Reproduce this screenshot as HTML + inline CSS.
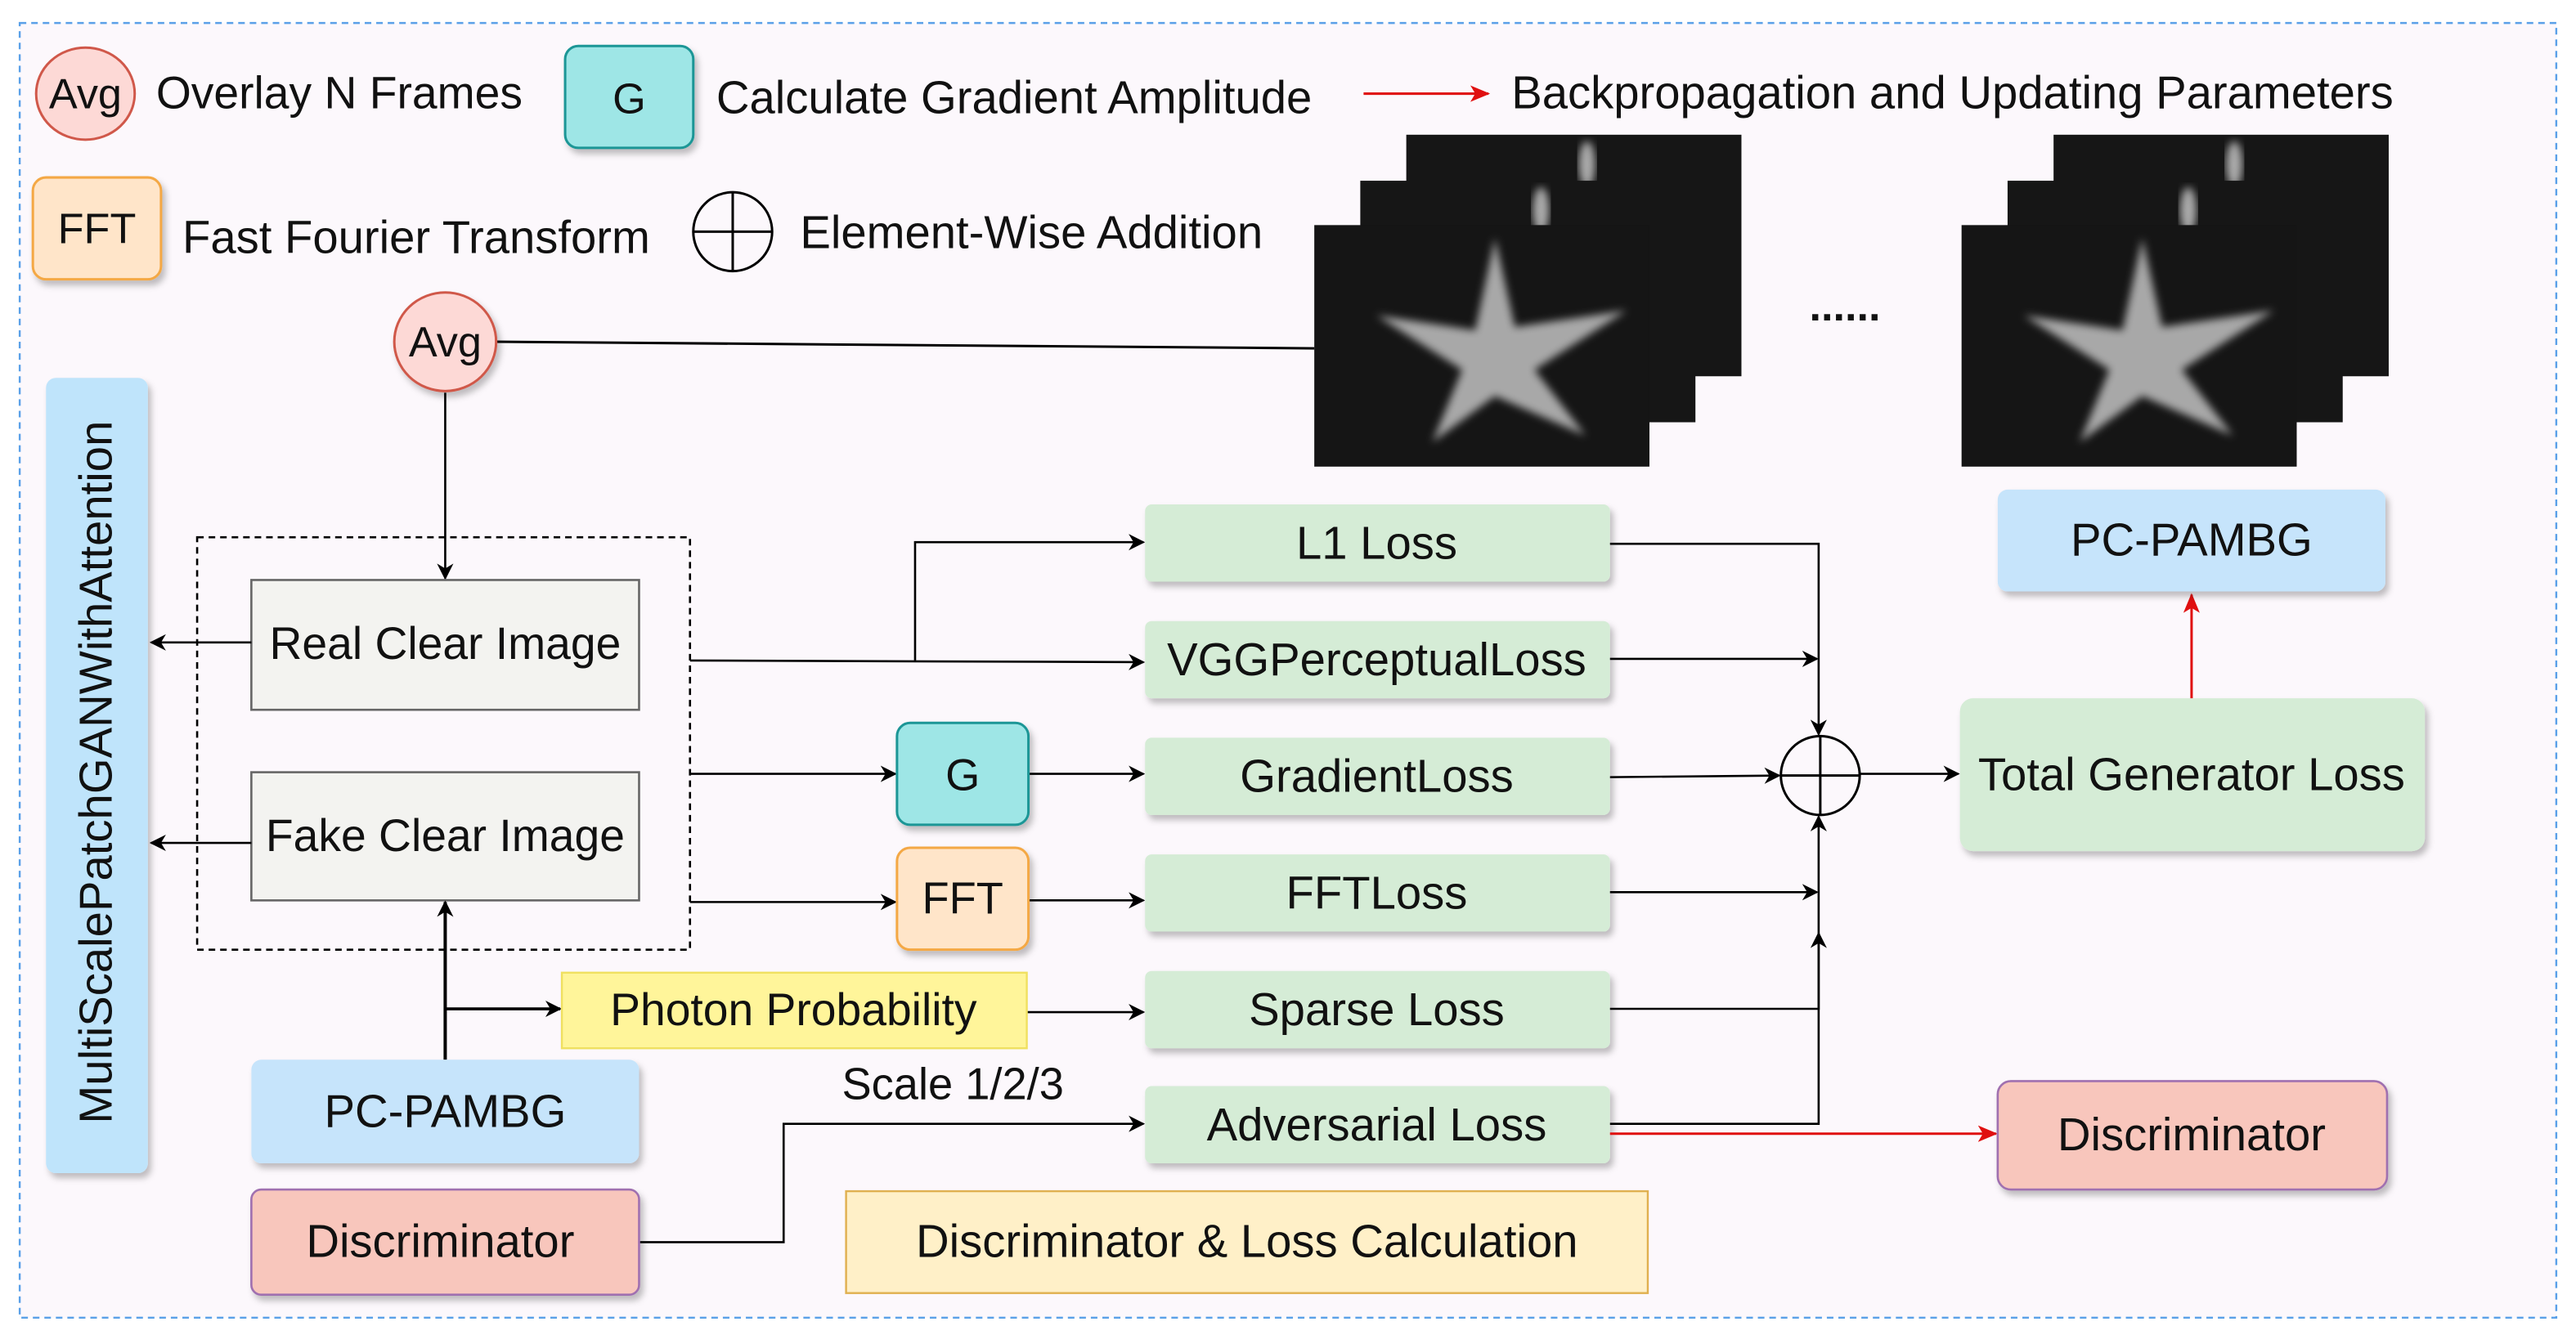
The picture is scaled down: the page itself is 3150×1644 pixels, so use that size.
<!DOCTYPE html>
<html><head><meta charset="utf-8"><style>
html,body{margin:0;padding:0;background:#fff}
svg{display:block}
text{font-family:"Liberation Sans",sans-serif;fill:#111}
</style></head><body>
<svg width="3150" height="1644" viewBox="0 0 1568 818" preserveAspectRatio="none" xmlns="http://www.w3.org/2000/svg">
<defs>
<filter id="sh" x="-10%" y="-10%" width="130%" height="140%"><feDropShadow dx="2" dy="3" stdDeviation="2" flood-color="#000" flood-opacity="0.25"/></filter>
<filter id="bl"><feGaussianBlur stdDeviation="2.5"/></filter>
<marker id="a" markerWidth="10" markerHeight="10" refX="9" refY="5" orient="auto" markerUnits="userSpaceOnUse"><path d="M0,0 L10,5 L0,10 L3,5 z" fill="#000"/></marker>
<marker id="r" markerWidth="12" markerHeight="10" refX="11" refY="5" orient="auto" markerUnits="userSpaceOnUse"><path d="M0,0 L12,5 L0,10 L3,5 z" fill="#e01010"/></marker>
<g id="star">
<rect width="204" height="147" fill="#151515"/>
<g filter="url(#bl)" fill="#a8a8a8">
<polygon points="110,8 122,62 190,52 134,88 165,128 110,104 72,132 90,88 38,55 98,64"/>
</g>
</g>
<g id="stack">
<rect x="56" y="0" width="204" height="147" fill="#161616"/>
<ellipse cx="166" cy="18" rx="5" ry="14" fill="#aaa" filter="url(#bl)"/>
<rect x="28" y="28" width="204" height="147" fill="#161616"/>
<ellipse cx="138" cy="46" rx="5" ry="14" fill="#aaa" filter="url(#bl)"/>
<use href="#star" x="0" y="55"/>
</g>
</defs>
<rect x="0" y="0" width="1568" height="818" fill="#fff"/>
<rect x="12" y="14" width="1544" height="788" fill="#fcf8fc" stroke="#5aa0e8" stroke-width="1.2" stroke-dasharray="4,3"/>

<!-- legend -->
<ellipse cx="52" cy="57" rx="30" ry="28" fill="#fdd9d6" stroke="#d0584a" stroke-width="1.5"/>
<text x="52" y="66" font-size="26" text-anchor="middle">Avg</text>
<text x="95" y="66" font-size="27.5">Overlay N Frames</text>
<rect x="344" y="28" width="78" height="62" rx="8" fill="#9ee6e6" stroke="#1a9696" stroke-width="1.5" filter="url(#sh)"/>
<text x="383" y="69" font-size="26" text-anchor="middle">G</text>
<text x="436" y="69" font-size="28">Calculate Gradient Amplitude</text>
<line x1="830" y1="57" x2="906" y2="57" stroke="#e01010" stroke-width="1.5" marker-end="url(#r)"/>
<text x="920" y="66" font-size="28">Backpropagation and Updating Parameters</text>
<rect x="20" y="108" width="78" height="62" rx="8" fill="#ffe5c9" stroke="#f4a844" stroke-width="1.5" filter="url(#sh)"/>
<text x="59" y="148" font-size="26" text-anchor="middle">FFT</text>
<text x="111" y="154" font-size="28">Fast Fourier Transform</text>
<ellipse cx="446" cy="141" rx="24" ry="24" fill="none" stroke="#000" stroke-width="1.5"/>
<line x1="422" y1="141" x2="470" y2="141" stroke="#000" stroke-width="1.5"/>
<line x1="446" y1="117" x2="446" y2="165" stroke="#000" stroke-width="1.5"/>
<text x="487" y="151" font-size="28">Element-Wise Addition</text>

<!-- images -->
<use href="#stack" x="800" y="82"/>
<use href="#stack" x="1194" y="82"/>
<text x="1123" y="195" font-size="26" text-anchor="middle" font-weight="bold">......</text>

<!-- Avg -->
<line x1="302" y1="208" x2="800" y2="212" stroke="#000" stroke-width="1.5"/>
<ellipse cx="271" cy="208" rx="31" ry="30" fill="#fdd9d6" stroke="#d0584a" stroke-width="1.5" filter="url(#sh)"/>
<text x="271" y="217" font-size="26" text-anchor="middle">Avg</text>
<line x1="271" y1="239" x2="271" y2="352" stroke="#000" stroke-width="1.3" marker-end="url(#a)"/>

<!-- MultiScale -->
<rect x="28" y="230" width="62" height="484" rx="6" fill="#bfe4fb" filter="url(#sh)"/>
<text transform="translate(68,470) rotate(-90)" font-size="28" text-anchor="middle">MultiScalePatchGANWithAttention</text>

<!-- dashed box -->
<rect x="120" y="327" width="300" height="251" fill="none" stroke="#000" stroke-width="1.3" stroke-dasharray="4,3"/>
<rect x="153" y="353" width="236" height="79" fill="#f3f3f0" stroke="#666" stroke-width="1.3"/>
<text x="271" y="401" font-size="27.5" text-anchor="middle" fill="#333">Real Clear Image</text>
<rect x="153" y="470" width="236" height="78" fill="#f3f3f0" stroke="#666" stroke-width="1.3"/>
<text x="271" y="518" font-size="27.5" text-anchor="middle" fill="#333">Fake Clear Image</text>
<line x1="153" y1="391" x2="92" y2="391" stroke="#000" stroke-width="1.3" marker-end="url(#a)"/>
<line x1="153" y1="513" x2="92" y2="513" stroke="#000" stroke-width="1.3" marker-end="url(#a)"/>

<!-- loss boxes -->
<g fill="#d5ecd6" filter="url(#sh)">
<rect x="697" y="307" width="283" height="47" rx="4"/>
<rect x="697" y="378" width="283" height="47" rx="4"/>
<rect x="697" y="449" width="283" height="47" rx="4"/>
<rect x="697" y="520" width="283" height="47" rx="4"/>
<rect x="697" y="591" width="283" height="47" rx="4"/>
<rect x="697" y="661" width="283" height="47" rx="4"/>
<rect x="1193" y="425" width="283" height="93" rx="8"/>
</g>
<g font-size="28" text-anchor="middle">
<text x="838" y="340">L1 Loss</text>
<text x="838" y="411">VGGPerceptualLoss</text>
<text x="838" y="482">GradientLoss</text>
<text x="838" y="553">FFTLoss</text>
<text x="838" y="624">Sparse Loss</text>
<text x="838" y="694">Adversarial Loss</text>
<text x="1334" y="481">Total Generator Loss</text>
</g>

<!-- left connections -->
<g stroke="#000" stroke-width="1.3" fill="none">
<line x1="420" y1="402" x2="696" y2="403" marker-end="url(#a)"/>
<polyline points="557,402 557,330 696,330" marker-end="url(#a)"/>
<line x1="420" y1="471" x2="545" y2="471" marker-end="url(#a)"/>
<line x1="626" y1="471" x2="696" y2="471" marker-end="url(#a)"/>
<line x1="420" y1="549" x2="545" y2="549" marker-end="url(#a)"/>
<line x1="626" y1="548" x2="696" y2="548" marker-end="url(#a)"/>
<line x1="625" y1="616" x2="696" y2="616" marker-end="url(#a)"/>
<line x1="271" y1="645" x2="271" y2="549" marker-end="url(#a)" stroke-width="2"/>
<line x1="271" y1="614" x2="341" y2="614" marker-end="url(#a)" stroke-width="1.8"/>
<polyline points="389,756 477,756 477,684 696,684" marker-end="url(#a)"/>
</g>
<rect x="546" y="440" width="80" height="62" rx="8" fill="#9ee6e6" stroke="#1a9696" stroke-width="1.5" filter="url(#sh)"/>
<text x="586" y="481" font-size="27" text-anchor="middle">G</text>
<rect x="546" y="516" width="80" height="62" rx="8" fill="#ffe5c9" stroke="#f4a844" stroke-width="1.5" filter="url(#sh)"/>
<text x="586" y="556" font-size="27" text-anchor="middle">FFT</text>
<rect x="342" y="592" width="283" height="46" fill="#fff59a" stroke="#f0e060" stroke-width="1.2"/>
<text x="483" y="624" font-size="27.5" text-anchor="middle">Photon Probability</text>
<rect x="153" y="645" width="236" height="63" rx="6" fill="#c6e4fb" filter="url(#sh)"/>
<text x="271" y="686" font-size="28" text-anchor="middle">PC-PAMBG</text>
<rect x="153" y="724" width="236" height="64" rx="6" fill="#f8c6bc" stroke="#a070b0" stroke-width="1.3" filter="url(#sh)"/>
<text x="268" y="765" font-size="28" text-anchor="middle">Discriminator</text>
<text x="580" y="669" font-size="27" text-anchor="middle">Scale 1/2/3</text>
<rect x="515" y="725" width="488" height="62" fill="#fff0c8" stroke="#e0b050" stroke-width="1.2"/>
<text x="759" y="765" font-size="28" text-anchor="middle">Discriminator &amp; Loss Calculation</text>

<!-- right connections -->
<g stroke="#000" stroke-width="1.3" fill="none">
<polyline points="980,331 1107,331 1107,447" marker-end="url(#a)"/>
<line x1="980" y1="401" x2="1106" y2="401" marker-end="url(#a)"/>
<line x1="980" y1="473" x2="1083" y2="472" marker-end="url(#a)"/>
<line x1="980" y1="543" x2="1106" y2="543" marker-end="url(#a)"/>
<polyline points="980,614 1107,614 1107,568" marker-end="url(#a)"/>
<polyline points="980,684 1107,684 1107,497" marker-end="url(#a)"/>
<line x1="1132" y1="471" x2="1192" y2="471" marker-end="url(#a)"/>
</g>
<ellipse cx="1108" cy="472" rx="24" ry="24" fill="#fcf8fc" stroke="#000" stroke-width="1.5"/>
<line x1="1084" y1="472" x2="1132" y2="472" stroke="#000" stroke-width="1.5"/>
<line x1="1108" y1="448" x2="1108" y2="496" stroke="#000" stroke-width="1.5"/>

<line x1="1334" y1="425" x2="1334" y2="362" stroke="#e01010" stroke-width="1.5" marker-end="url(#r)"/>
<rect x="1216" y="298" width="236" height="62" rx="6" fill="#c6e4fb" filter="url(#sh)"/>
<text x="1334" y="338" font-size="28" text-anchor="middle">PC-PAMBG</text>
<line x1="980" y1="690" x2="1215" y2="690" stroke="#e01010" stroke-width="1.5" marker-end="url(#r)"/>
<rect x="1216" y="658" width="237" height="66" rx="8" fill="#f8c6bc" stroke="#a070b0" stroke-width="1.3" filter="url(#sh)"/>
<text x="1334" y="700" font-size="28" text-anchor="middle">Discriminator</text>
</svg>
</body></html>
